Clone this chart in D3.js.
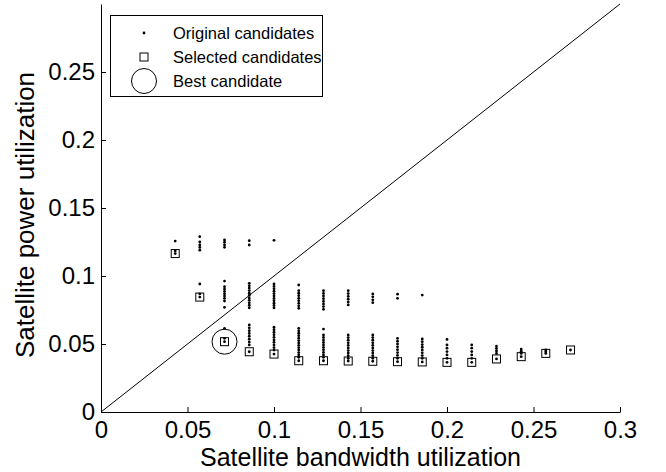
<!DOCTYPE html>
<html>
<head>
<meta charset="utf-8">
<script src="https://cdn.jsdelivr.net/npm/d3@7"></script>
<style>
  html, body { margin: 0; padding: 0; background: #fff; }
  svg { display: block; font-family: "Liberation Sans", Arial, Helvetica, sans-serif; }
</style>
</head>
<body>
<svg id="chart" width="666" height="472"></svg>
<script>
// Bandwidth utilization of each candidate column
const bandwidth = [0.0429, 0.0571, 0.0714, 0.0857, 0.1000, 0.1143, 0.1286, 0.1429, 0.1571,
                   0.1714, 0.1857, 0.2000, 0.2143, 0.2286, 0.2429, 0.2571, 0.2714];

// Power utilization of every original candidate, one list per bandwidth column
const originalPower = [
  [0.1257, 0.1184, 0.1165],
  [0.1289, 0.1250, 0.1228, 0.1210, 0.1190, 0.0941, 0.0868, 0.0845],
  [0.1265, 0.1248, 0.1228, 0.1211, 0.0963, 0.0921, 0.0904, 0.0887, 0.0870, 0.0853, 0.0836, 0.0816, 0.0770, 0.0615, 0.0542, 0.0517],
  [0.1260, 0.1228, 0.0946, 0.0928, 0.0911, 0.0893, 0.0874, 0.0857, 0.0838, 0.0821, 0.0803, 0.0785, 0.0766, 0.0640, 0.0619, 0.0598, 0.0578, 0.0557, 0.0535, 0.0514, 0.0493, 0.0443],
  [0.1262, 0.0941, 0.0923, 0.0906, 0.0888, 0.0871, 0.0853, 0.0835, 0.0818, 0.0800, 0.0783, 0.0765, 0.0623, 0.0605, 0.0587, 0.0568, 0.0549, 0.0530, 0.0512, 0.0493, 0.0474, 0.0455, 0.0426],
  [0.0934, 0.0892, 0.0873, 0.0855, 0.0836, 0.0818, 0.0799, 0.0781, 0.0762, 0.0615, 0.0597, 0.0579, 0.0561, 0.0543, 0.0525, 0.0508, 0.0490, 0.0473, 0.0455, 0.0437, 0.0420, 0.0402, 0.0377],
  [0.0892, 0.0872, 0.0853, 0.0833, 0.0814, 0.0794, 0.0775, 0.0755, 0.0610, 0.0566, 0.0548, 0.0530, 0.0511, 0.0493, 0.0475, 0.0457, 0.0438, 0.0420, 0.0402, 0.0377],
  [0.0892, 0.0871, 0.0850, 0.0829, 0.0808, 0.0787, 0.0566, 0.0547, 0.0528, 0.0509, 0.0490, 0.0471, 0.0452, 0.0433, 0.0414, 0.0395, 0.0375],
  [0.0868, 0.0847, 0.0825, 0.0804, 0.0566, 0.0547, 0.0528, 0.0509, 0.0490, 0.0471, 0.0452, 0.0433, 0.0414, 0.0395, 0.0373],
  [0.0866, 0.0836, 0.0542, 0.0521, 0.0500, 0.0479, 0.0458, 0.0437, 0.0416, 0.0395, 0.0370],
  [0.0860, 0.0537, 0.0517, 0.0496, 0.0476, 0.0456, 0.0435, 0.0415, 0.0395, 0.0368],
  [0.0534, 0.0493, 0.0469, 0.0444, 0.0420, 0.0395, 0.0365],
  [0.0493, 0.0469, 0.0444, 0.0420, 0.0395, 0.0365],
  [0.0485, 0.0467, 0.0449, 0.0431, 0.0390],
  [0.0463, 0.0447, 0.0431, 0.0407],
  [0.0456, 0.0443, 0.0431],
  [0.0456]
];

// Selected candidate (lowest power) in each column
const selectedPower = [0.1165, 0.0845, 0.0517, 0.0443, 0.0426, 0.0377, 0.0377, 0.0375, 0.0373,
                       0.0370, 0.0368, 0.0365, 0.0365, 0.0390, 0.0407, 0.0431, 0.0456];

// Best overall candidate
const bestBandwidth = 0.0714;
const bestPower = 0.0517;

// Axis ticks and labels
const xTicks = [0, 0.05, 0.1, 0.15, 0.2, 0.25, 0.3];
const yTicks = [0, 0.05, 0.1, 0.15, 0.2, 0.25];
const xLabel = "Satellite bandwidth utilization";
const yLabel = "Satellite power utilization";
const legendLabels = ["Original candidates", "Selected candidates", "Best candidate"];

const svg = d3.select("#chart");
const x = d3.scaleLinear().domain([0, 0.3]).range([101, 620]);
const y = d3.scaleLinear().domain([0, 0.3]).range([412, 4]);

const fmt = d => d === 0 ? "0" : String(d);

// Axes with inward ticks and no box
const xAxis = svg.append("g").attr("transform", `translate(0,${y(0)})`)
  .call(d3.axisBottom(x).tickValues(xTicks).tickFormat(fmt).tickSizeInner(-5).tickSizeOuter(0).tickPadding(9));
const yAxis = svg.append("g").attr("transform", `translate(${x(0)},0)`)
  .call(d3.axisLeft(y).tickValues(yTicks).tickFormat(fmt).tickSizeInner(-5).tickSizeOuter(0).tickPadding(6));
[xAxis, yAxis].forEach(g => {
  g.select(".domain").attr("stroke", "#000").attr("stroke-width", 1);
  g.selectAll(".tick line").attr("stroke", "#000");
  g.selectAll(".tick text").attr("fill", "#000").style("font-size", "24px")
    .style("font-family", "'Liberation Sans', Arial, sans-serif");
});

// Equal-utilization diagonal
svg.append("line")
  .attr("x1", x(0)).attr("y1", y(0)).attr("x2", x(0.3)).attr("y2", y(0.3))
  .attr("stroke", "#000").attr("stroke-width", 1);

// Original candidates
const dots = [];
originalPower.forEach((col, i) => col.forEach(p => dots.push([bandwidth[i], p])));
svg.append("g").selectAll("circle").data(dots).join("circle")
  .attr("cx", d => x(d[0])).attr("cy", d => y(d[1])).attr("r", 1.4).attr("fill", "#000");

// Selected candidates
const sq = 8;
svg.append("g").selectAll("rect").data(selectedPower).join("rect")
  .attr("x", (d, i) => x(bandwidth[i]) - sq / 2).attr("y", d => y(d) - sq / 2)
  .attr("width", sq).attr("height", sq)
  .attr("fill", "none").attr("stroke", "#000").attr("stroke-width", 1);

// Best candidate
svg.append("circle").attr("cx", x(bestBandwidth)).attr("cy", y(bestPower)).attr("r", 12.5)
  .attr("fill", "none").attr("stroke", "#000").attr("stroke-width", 1);

// Axis titles
svg.append("text").attr("x", (x(0) + x(0.3)) / 2).attr("y", 466).attr("text-anchor", "middle")
  .style("font-size", "25px").attr("fill", "#000").text(xLabel);
svg.append("text").attr("transform", "translate(34,215) rotate(-90)")
  .attr("text-anchor", "middle").style("font-size", "26px").attr("fill", "#000").text(yLabel);

// Legend
const lg = svg.append("g");
lg.append("rect").attr("x", 110.5).attr("y", 15.5).attr("width", 212).attr("height", 81)
  .attr("fill", "#fff").attr("stroke", "#000").attr("stroke-width", 1);
const rows = [33, 57, 81];
lg.append("circle").attr("cx", 144).attr("cy", rows[0]).attr("r", 1.4).attr("fill", "#000");
lg.append("rect").attr("x", 144 - sq / 2).attr("y", rows[1] - sq / 2).attr("width", sq).attr("height", sq)
  .attr("fill", "none").attr("stroke", "#000");
lg.append("circle").attr("cx", 144).attr("cy", rows[2]).attr("r", 12.5).attr("fill", "none").attr("stroke", "#000");
lg.selectAll("text.lab").data(legendLabels).join("text").attr("class", "lab")
  .attr("x", 173).attr("y", (d, i) => rows[i]).attr("dy", "0.35em")
  .style("font-size", "16.5px").attr("fill", "#000").text(d => d);
</script>
</body>
</html>
